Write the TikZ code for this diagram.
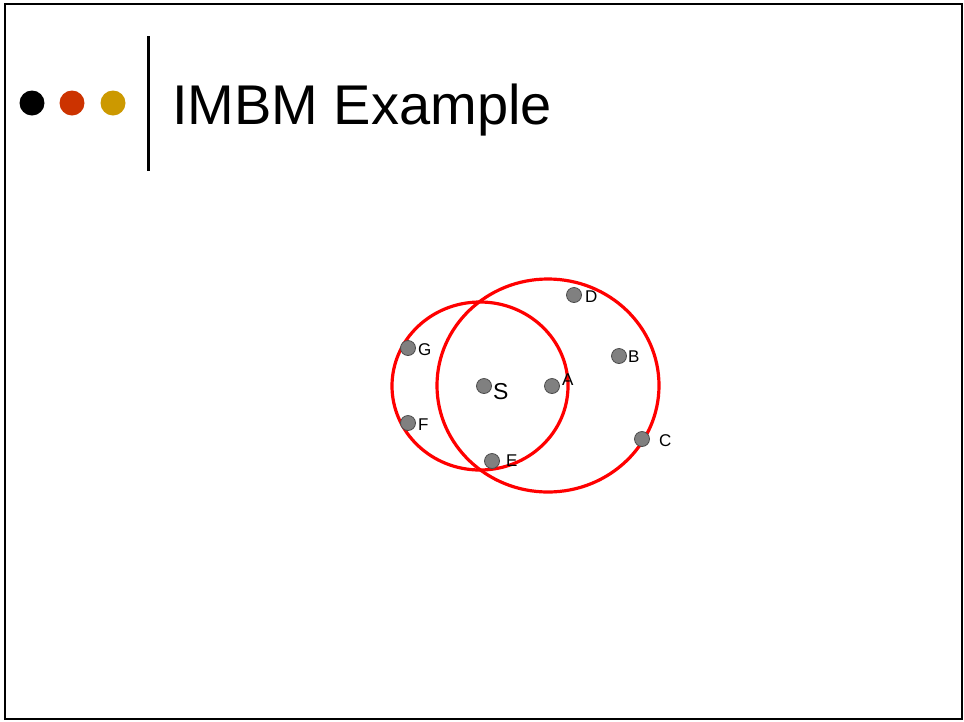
\documentclass[tikz,border=0pt]{standalone}
\usepackage{fontspec}
\setmainfont{Liberation Sans}
\usepackage{tikz}

\definecolor{dotred}{HTML}{CC3300}
\definecolor{dotgold}{HTML}{CC9900}

\begin{document}
\begin{tikzpicture}[x=1pt,y=-1pt,
  site/.style={circle,draw=black!70,fill=black!50,line width=0.8pt,minimum size=15pt,inner sep=0pt},
  lbl/.style={anchor=west,inner sep=0pt,font=\fontsize{17}{17}\selectfont},
  reach/.style={draw=red,line width=3.2pt}]
\useasboundingbox (0,0) rectangle (964,721);
\draw[line width=2pt] (5,4) rectangle (962,719);
% header
\fill[black] (32,103) circle (12.5);
\fill[dotred] (72,103) circle (12.5);
\fill[dotgold] (113,103) circle (12.5);
\draw[line width=3pt] (148,36) -- (148,171);
\node[anchor=base west,inner sep=0pt,font=\fontsize{56}{60}\selectfont] (title) at (172,124) {IMBM Example};
% the two ranges
\draw[reach] (480,386) ellipse (88 and 84);
\draw[reach] (548,385.5) ellipse (111 and 106.5);
% points
\node[site] (D) at (574,295) {};
\node[site] (G) at (408,348) {};
\node[site] (S) at (484,386) {};
\node[site] (A) at (552,386) {};
\node[site] (B) at (619,356) {};
\node[site] (F) at (408,423) {};
\node[site] (C) at (642,439) {};
\node[site] (E) at (492,461) {};
\node[lbl] at (585,297) {D};
\node[lbl] at (418,350) {G};
\node[lbl,font=\fontsize{23}{23}\selectfont] at (493,392) {S};
\node[lbl] at (562,380) {A};
\node[lbl] at (628,357) {B};
\node[lbl] at (418,425) {F};
\node[lbl] at (659,441) {C};
\node[lbl] at (506,461) {E};
\end{tikzpicture}
\end{document}
